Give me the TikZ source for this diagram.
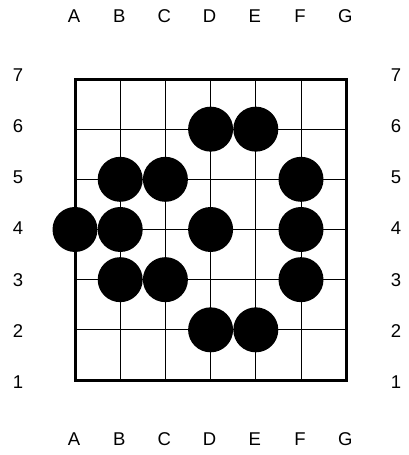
\documentclass[tikz,border=0pt]{standalone}
\usepackage{fontspec}
\setmainfont{Liberation Sans}
\begin{document}
\begin{tikzpicture}[x=1pt,y=-1pt,
  stone/.style={circle,fill=black,minimum size=45pt,inner sep=0pt},
  lbl/.style={font=\fontsize{18.5}{22}\selectfont,inner sep=0pt},
  gridline/.style={line width=1pt},
  border/.style={line width=3pt}]
\useasboundingbox (0,0) rectangle (408,455);
\foreach \i in {1,...,5} {
  \draw[gridline] ({75+45.2*\i},79) -- ({75+45.2*\i},380);
}
\foreach \r in {2,...,6} {
  \draw[gridline] (75,{380-50.17*(\r-1)}) -- (346,{380-50.17*(\r-1)});
}
\draw[border] (75,79) rectangle (346,380);
\foreach \l [count=\i from 0] in {A,B,C,D,E,F,G} {
  \node[lbl] (top\l) at ({74+45.2*\i},16) {\l};
  \node[lbl] (bot\l) at ({74+45.2*\i},439) {\l};
}
\foreach \r in {1,...,7} {
  \node[lbl] (left\r) at (18,{382-51.17*(\r-1)}) {\r};
  \node[lbl] (right\r) at (396,{382-51.17*(\r-1)}) {\r};
}
\foreach \i/\r/\n in {3/6/D6,4/6/E6,1/5/B5,2/5/C5,5/5/F5,0/4/A4,1/4/B4,3/4/D4,5/4/F4,1/3/B3,2/3/C3,5/3/F3,3/2/D2,4/2/E2} {
  \node[stone] (s\n) at ({75+45.2*\i},{380-50.17*(\r-1)}) {};
}
\end{tikzpicture}
\end{document}
